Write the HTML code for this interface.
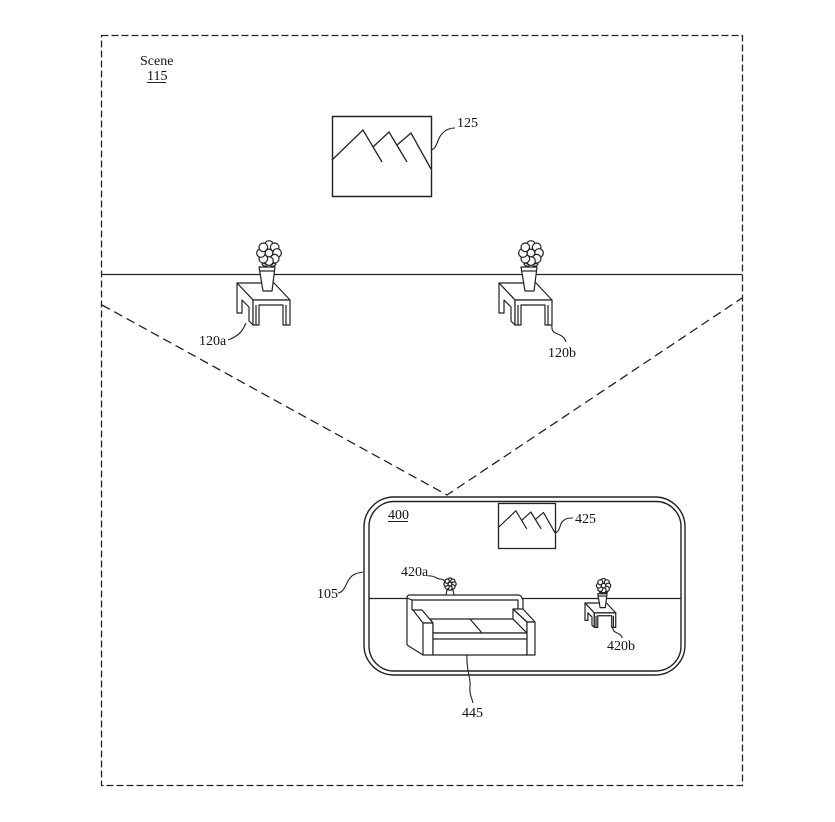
<!DOCTYPE html>
<html>
<head>
<meta charset="utf-8">
<style>
html,body{margin:0;padding:0;background:#fff;}
svg{display:block;}
svg *{vector-effect:non-scaling-stroke;}
text{font-family:"Liberation Serif",serif;font-size:14px;fill:#111;}
</style>
</head>
<body>
<svg width="835" height="822" viewBox="0 0 835 822" xmlns="http://www.w3.org/2000/svg">
<defs>
  <g id="flower" fill="#fff" stroke="#222" stroke-width="1.2">
    <circle cx="0" cy="-8" r="4.3"/>
    <circle cx="5.7" cy="-5.7" r="4.3"/>
    <circle cx="8" cy="0" r="4.3"/>
    <circle cx="5.7" cy="5.7" r="4.3"/>
    <circle cx="0" cy="8" r="4.3"/>
    <circle cx="-5.7" cy="5.7" r="4.3"/>
    <circle cx="-8" cy="0" r="4.3"/>
    <circle cx="-5.7" cy="-5.7" r="4.3"/>
    <circle cx="0" cy="0" r="3.8"/>
  </g>
  <g id="table" fill="#fff" stroke="#222" stroke-width="1.2" stroke-linejoin="round">
    <!-- stem -->
    <path d="M267,262 L267,268 M271,262 L271,268" fill="none"/>
    <path d="M267,265 Q263,262 262,264 Q264,267 267,266" />
    <path d="M271,265 Q275,262 276,264 Q274,267 271,266" />
    <use href="#flower" x="269" y="253"/>
    <!-- table top -->
    <polygon points="237,283 274,283 290,300 253,300"/>
    <!-- left side -->
    <path d="M237,283 L253,300 L253,325 L249,321 L249,307 L242,300 L242,313 L237,313 Z"/>
    <!-- front face with legs -->
    <path d="M253,300 L290,300 L290,325 L283,325 L283,305 L259,305 L259,325 L253,325 Z"/>
    <path d="M256,305 L256,325 M286,305 L286,325" fill="none"/>
    <!-- pot -->
    <path d="M259,267 L275,267 L272,291 L263,291 Z"/>
    <path d="M259.5,271 L274.5,271" fill="none"/>
  </g>
</defs>

<!-- outer dashed scene box -->
<rect x="101.5" y="35.5" width="641" height="750" fill="none" stroke="#222" stroke-width="1.3" stroke-dasharray="7 3"/>

<!-- Scene label -->
<text x="140" y="65">Scene</text>
<text x="147" y="80">115</text>
<line x1="147" y1="82.5" x2="166" y2="82.5" stroke="#222" stroke-width="1"/>

<!-- horizon -->
<line x1="101" y1="274.5" x2="742" y2="274.5" stroke="#222" stroke-width="1.3"/>

<!-- picture 125 -->
<rect x="332.5" y="116.5" width="99" height="80" fill="#fff" stroke="#222" stroke-width="1.4"/>
<path d="M332,160 L363,130 L382,162 M373,147 L389,132 L407,162 M397,145 L411,133 L431,169" fill="none" stroke="#222" stroke-width="1.3"/>
<path d="M431,150 C437,149 437,140 441,135 C444,131 449,128 455,128" fill="none" stroke="#222" stroke-width="1.1"/>
<text x="457" y="127">125</text>

<!-- tables -->
<use href="#table"/>
<use href="#table" transform="translate(262,0)"/>

<!-- 120a leader -->
<path d="M246,323 C243,330 240,334 236,336 C233,338 231,339 228,340" fill="none" stroke="#222" stroke-width="1.1"/>
<text x="199" y="345">120a</text>
<!-- 120b leader -->
<path d="M552,325 C551,333 556,333 560,335 C564,337 565,339 566,342" fill="none" stroke="#222" stroke-width="1.1"/>
<text x="548" y="357">120b</text>

<!-- field of view dashed lines -->
<path d="M102,305 L447,495 L742,298" fill="none" stroke="#222" stroke-width="1.3" stroke-dasharray="9 5"/>

<!-- device 105 -->
<rect x="364" y="497" width="321" height="178" rx="30" ry="30" fill="#fff" stroke="#222" stroke-width="1.4"/>
<rect x="369" y="501.5" width="312" height="169.5" rx="25" ry="25" fill="none" stroke="#222" stroke-width="1.4"/>

<path d="M338,593 C344,592 345,586 348,581 C351,575 356,573 363,572" fill="none" stroke="#222" stroke-width="1.1"/>
<text x="317" y="598">105</text>

<text x="388" y="519">400</text>
<line x1="388" y1="521.5" x2="408" y2="521.5" stroke="#222" stroke-width="1"/>

<!-- inner horizon -->
<line x1="369" y1="598.5" x2="681" y2="598.5" stroke="#222" stroke-width="1.3"/>

<!-- picture 425 -->
<rect x="498.5" y="503.5" width="57" height="45" fill="#fff" stroke="#222" stroke-width="1.3"/>
<g transform="translate(498,503) scale(0.576,0.5625) translate(-332,-116)">
  <path d="M332,160 L363,130 L382,162 M373,147 L389,132 L407,162 M397,145 L411,133 L431,169" fill="none" stroke="#222" stroke-width="1.2"/>
</g>
<path d="M555,533 C561,531 559,524 563,521 C566,518 569,518 573,518" fill="none" stroke="#222" stroke-width="1.1"/>
<text x="575" y="523">425</text>

<!-- sofa 445 -->
<g fill="#fff" stroke="#222" stroke-width="1.2" stroke-linejoin="round">
  <polygon points="407,595 521,595 523,600 523,609 535,622 535,655 423,655 407,645" stroke="none"/>
  <path d="M407,645 L407,598 Q407,595 410,595 L518,595 Q521,595 522,598 L523,600 L523,609" fill="none"/>
  <path d="M412,610 L412,600 L518,600 L518,609" fill="none"/>
  <path d="M407,598 L412,600" fill="none"/>
  <path d="M407,645 L423,655" fill="none"/>
  <!-- left arm -->
  <polygon points="413,610 422,610 433,623 423,623"/>
  <rect x="423" y="623" width="10" height="32"/>
  <path d="M413,610 L412,610" fill="none"/>
  <!-- seat -->
  <polygon points="430,619 513,619 527,633 433,633 433,623"/>
  <path d="M470,619 L482,633" fill="none"/>
  <rect x="433" y="633" width="94" height="22"/>
  <line x1="433" y1="639" x2="527" y2="639"/>
  <!-- right arm -->
  <polygon points="513,609 527,622 527,633 513,619"/>
  <polygon points="513,609 523,609 535,622 527,622"/>
  <rect x="527" y="622" width="8" height="33"/>
</g>
<path d="M467,655 C466,670 471,678 470,686 C469,694 472,698 473,703" fill="none" stroke="#222" stroke-width="1.1"/>
<text x="462" y="717">445</text>

<!-- 420a flower -->
<path d="M447,590 L446,595 L454,595 L453,590 Z" fill="#fff" stroke="#222" stroke-width="1.1"/>
<use href="#flower" transform="translate(450,584) scale(0.5)"/>
<path d="M428,576 C434,575 437,579 440,579 C443,579 444,580 446,583" fill="none" stroke="#222" stroke-width="1.1"/>
<text x="401" y="576">420a</text>

<!-- 420b table -->
<use href="#table" transform="translate(447.54,438.86) scale(0.58)"/>
<path d="M613,627 C612,632 616,632 619,634 C621,635 622,636 622,638" fill="none" stroke="#222" stroke-width="1.1"/>
<text x="607" y="650">420b</text>

</svg>
</body>
</html>
